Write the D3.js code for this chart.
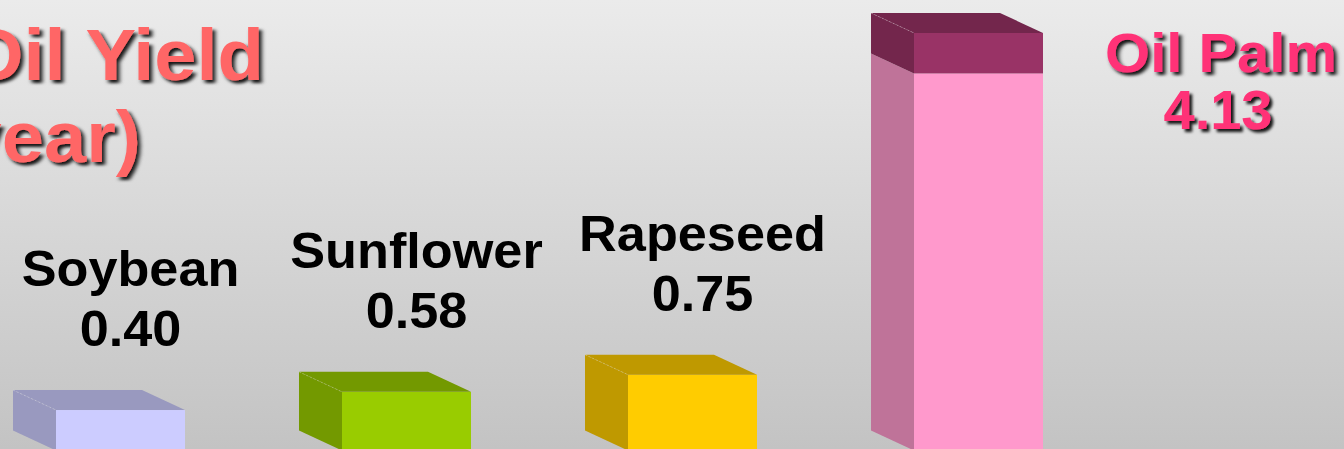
<!DOCTYPE html>
<meta charset="utf-8">
<html>
    <head>
        <style>
            html, body {
                margin: 0;
                padding: 0;
                width: 1344px;
                height: 449px;
                overflow: hidden;
            }

            svg {
                display: block;
                font-family: Arial, "Liberation Sans", sans-serif;
                font-weight: bold;
            }

            .crop-label {
                font-size: 50px;
                fill: #000;
                text-anchor: middle;
            }

            .title {
                font-size: 73px;
                fill: #ff6666;
                text-anchor: end;
            }

            .palm-label {
                font-size: 56px;
                fill: #ff3377;
                text-anchor: middle;
            }
        </style>
    </head>
    <body>
        <svg width="1344" height="449"></svg>

        <script src="https://cdn.jsdelivr.net/npm/d3@7"></script>
        <script>
            // crops and their oil yield (tonnes/ha/year)
            var crops = ['Soybean', 'Sunflower', 'Rapeseed', 'Oil Palm'];
            var yields = [0.40, 0.58, 0.75, 4.13];
            // oil palm bar is split in two parts, the others are a single part
            var parts = [[0.40], [0.58], [0.75], [3.73, 0.40]];
            var frontColors = [['#ccccff'], ['#99cc00'], ['#ffcc00'], ['#ff99cc', '#993366']];
            var sideColors = [['#9999bf'], ['#739900'], ['#bf9900'], ['#bf7399', '#73264c']];
            var titleLines = ['Average Oil Yield', '(tonnes/ha/year)'];

            var svg = d3.select('svg'),
                width = +svg.attr('width'),
                height = +svg.attr('height');

            var defs = svg.append('defs');

            var bg = defs.append('linearGradient')
                .attr('id', 'bg')
                .attr('x1', 0).attr('y1', 0)
                .attr('x2', 0).attr('y2', 1);
            bg.append('stop').attr('offset', 0).attr('stop-color', '#ebebeb');
            bg.append('stop').attr('offset', 1).attr('stop-color', '#c3c3c3');

            var shadow = defs.append('filter')
                .attr('id', 'shadow')
                .attr('x', '-10%').attr('y', '-10%')
                .attr('width', '130%').attr('height', '140%');
            shadow.append('feDropShadow')
                .attr('dx', 3).attr('dy', 3)
                .attr('stdDeviation', 1.8)
                .attr('flood-color', '#000')
                .attr('flood-opacity', 0.9);

            svg.append('rect')
                .attr('width', width)
                .attr('height', height)
                .attr('fill', 'url(#bg)');

            var x = d3.scaleBand()
                .domain(crops)
                .range([56, 1043])
                .paddingInner(0.549)
                .paddingOuter(0);

            var y = d3.scaleLinear()
                .domain([0, 4.13])
                .range([450.5, 33]);

            // depth of the boxes, the back face goes up and to the left
            var dx = -43,
                dy = -20;

            var rows = crops.map(function (c, i) {
                var base = 0;
                var segs = parts[i].map(function (v, j) {
                    var s = { y0: base, y1: base + v, front: frontColors[i][j], side: sideColors[i][j] };
                    base += v;
                    return s;
                });
                return { name: crops[i], value: yields[i], segs: segs };
            });

            var bars = svg.append('g');

            rows.forEach(function (d) {
                var x0 = x(d.name),
                    w = x.bandwidth();
                var g = bars.append('g');

                d.segs.forEach(function (s) {
                    var top = y(s.y1),
                        bot = y(s.y0);
                    // left side
                    g.append('path')
                        .attr('fill', s.side)
                        .attr('d', d3.line()([
                            [x0, top], [x0 + dx, top + dy],
                            [x0 + dx, bot + dy], [x0, bot]
                        ]) + 'Z');
                    // front
                    g.append('rect')
                        .attr('x', x0)
                        .attr('y', top)
                        .attr('width', w)
                        .attr('height', bot - top)
                        .attr('fill', s.front);
                });

                var last = d.segs[d.segs.length - 1],
                    top = y(last.y1);
                // top face
                g.append('path')
                    .attr('fill', last.side)
                    .attr('d', d3.line()([
                        [x0, top], [x0 + w, top],
                        [x0 + w + dx, top + dy], [x0 + dx, top + dy]
                    ]) + 'Z');
                // faint edge where top and side meet
                g.append('line')
                    .attr('x1', x0 + dx).attr('y1', top + dy)
                    .attr('x2', x0).attr('y2', top)
                    .attr('stroke', '#fff')
                    .attr('stroke-opacity', 0.25)
                    .attr('stroke-dasharray', '2,2');
            });

            // text in the slide is a bit wider than plain Arial
            function addText(parent, cls, tx, ty, sx, str) {
                return parent.append('text')
                    .attr('class', cls)
                    .attr('transform', 'translate(' + tx + ',' + ty + ') scale(' + sx + ',1)')
                    .text(str);
            }

            // labels above the small bars
            var fmt = d3.format('.2f');
            var labels = svg.append('g');
            rows.slice(0, 3).forEach(function (d) {
                var cx = x(d.name) + x.bandwidth() / 2 + 10,
                    base = y(d.value) + dy - 44;
                addText(labels, 'crop-label', cx, base - 60, 1.045, d.name);
                addText(labels, 'crop-label', cx, base, 1.045, fmt(d.value));
            });

            // oil palm label sits to the right of its bar
            var palm = rows[3];
            var px = x(palm.name) + x.bandwidth() + 178,
                py = y(palm.value) + 39;
            addText(labels, 'palm-label', px, py, 1.035, palm.name)
                .attr('filter', 'url(#shadow)');
            addText(labels, 'palm-label', px - 3, py + 57, 1.0, fmt(palm.value))
                .attr('filter', 'url(#shadow)');

            // title, partly cut off at the left edge like the slide
            var title = svg.append('g');
            addText(title, 'title', 264, 80, 1.04, titleLines[0])
                .attr('filter', 'url(#shadow)');
            addText(title, 'title', 141, 162, 1.04, titleLines[1])
                .attr('filter', 'url(#shadow)');
        </script>
    </body>
</html>
